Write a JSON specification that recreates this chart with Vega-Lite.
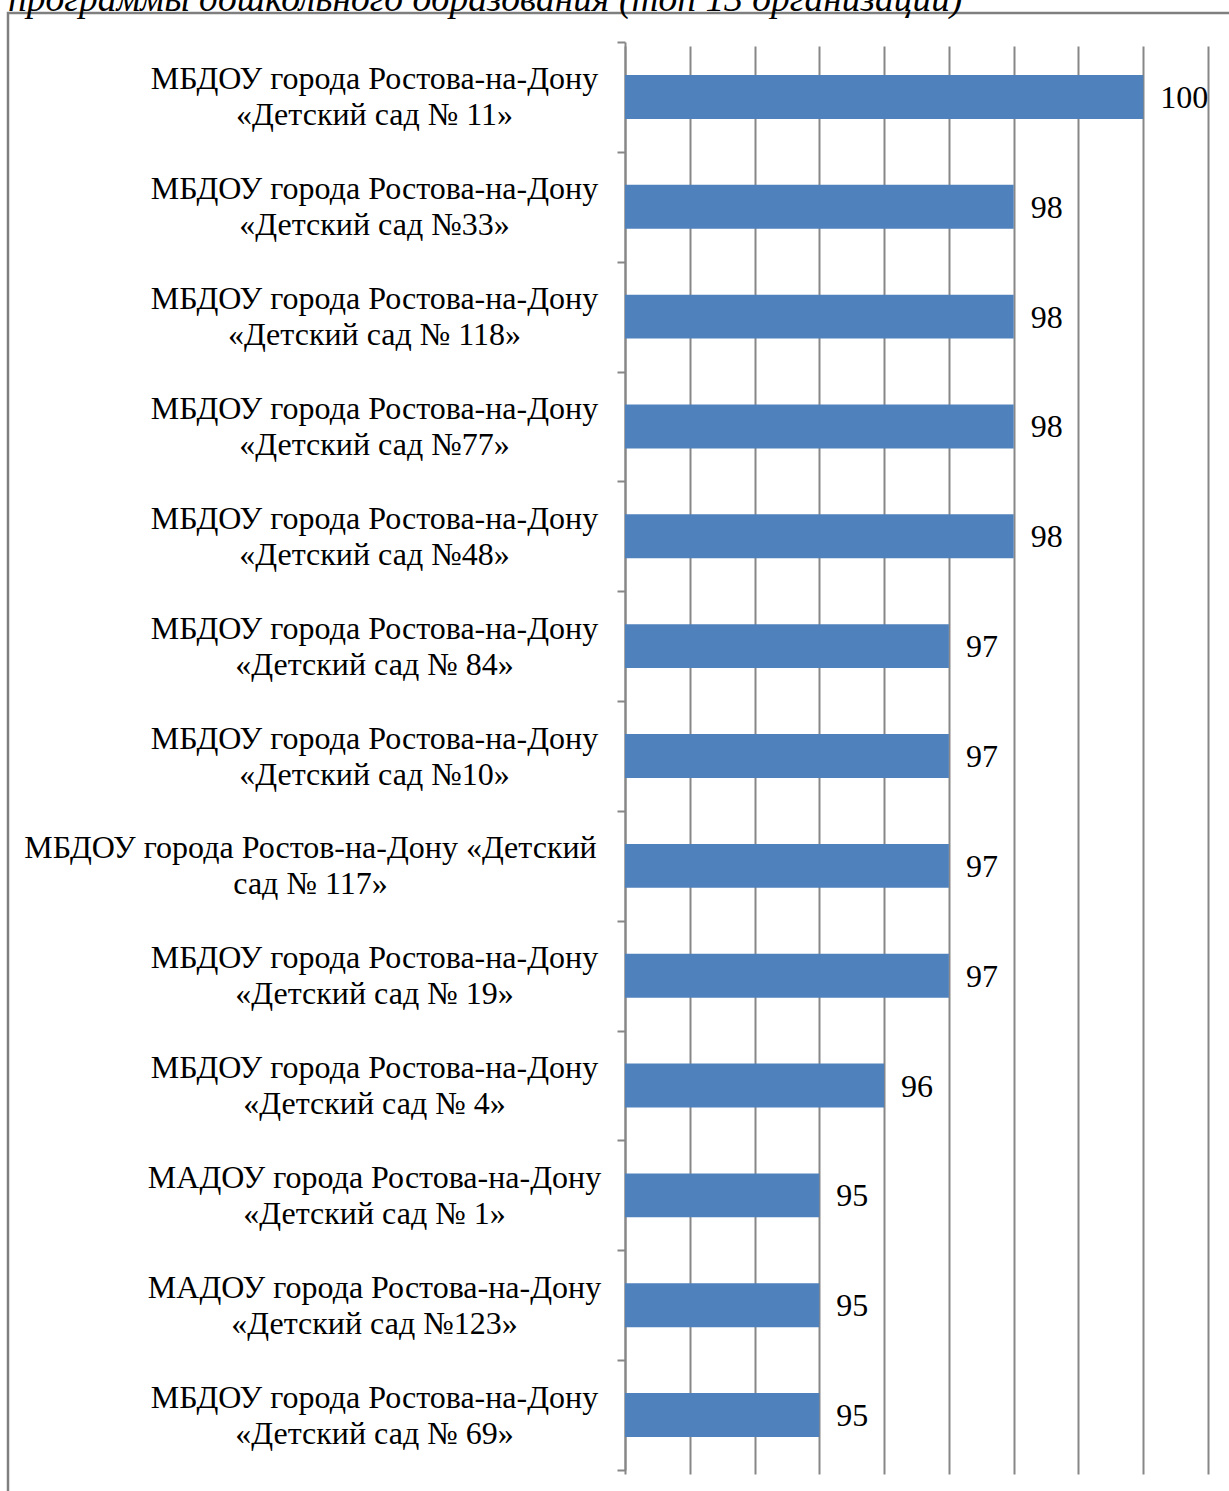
{
  "$schema": "https://vega.github.io/schema/vega-lite/v6.json",
  "width": 1231,
  "height": 1490,
  "autosize": {"type": "none"},
  "padding": {"left": 8, "top": 13, "right": -10, "bottom": -12},
  "background": "white",
  "title": {
    "text": "программы дошкольного образования (топ 13 организаций)",
    "anchor": "start",
    "frame": "group",
    "font": "Liberation Serif",
    "fontStyle": "italic",
    "fontWeight": "normal",
    "fontSize": 37.5,
    "color": "black",
    "baseline": "alphabetic",
    "offset": 0,
    "dy": 51
  },
  "config": {"view": {"stroke": "#7f7f7f", "strokeWidth": 2.5}},
  "data": {
    "values": [
      {"org": "МБДОУ города Ростова-на-Дону\n«Детский сад № 11»", "value": 100},
      {"org": "МБДОУ города Ростова-на-Дону\n«Детский сад №33»", "value": 98},
      {"org": "МБДОУ города Ростова-на-Дону\n«Детский сад № 118»", "value": 98},
      {"org": "МБДОУ города Ростова-на-Дону\n«Детский сад №77»", "value": 98},
      {"org": "МБДОУ города Ростова-на-Дону\n«Детский сад №48»", "value": 98},
      {"org": "МБДОУ города Ростова-на-Дону\n«Детский сад № 84»", "value": 97},
      {"org": "МБДОУ города Ростова-на-Дону\n«Детский сад №10»", "value": 97},
      {"org": "МБДОУ города Ростов-на-Дону «Детский\nсад № 117»", "value": 97},
      {"org": "МБДОУ города Ростова-на-Дону\n«Детский сад № 19»", "value": 97},
      {"org": "МБДОУ города Ростова-на-Дону\n«Детский сад № 4»", "value": 96},
      {"org": "МАДОУ города Ростова-на-Дону\n«Детский сад № 1»", "value": 95},
      {"org": "МАДОУ города Ростова-на-Дону\n«Детский сад №123»", "value": 95},
      {"org": "МБДОУ города Ростова-на-Дону\n«Детский сад № 69»", "value": 95}
    ]
  },
  "encoding": {
    "y": {
      "field": "org",
      "type": "nominal",
      "sort": null,
      "scale": {"range": [29, 1457], "paddingInner": 0, "paddingOuter": 0},
      "axis": {
        "title": null,
        "orient": "left",
        "offset": -617,
        "grid": false,
        "domain": true,
        "domainColor": "#878787",
        "domainWidth": 2,
        "ticks": true,
        "tickBand": "extent",
        "tickSize": 8,
        "tickColor": "#878787",
        "tickWidth": 2,
        "labelExpr": "indexof(datum.label, 'Ростов-на-Дону') >= 0 ? [split(datum.label, '\\n')[0] + '\u00a0\u00a0\u00a0\u00a0\u00a0\u00a0\u00a0\u00a0\u00a0\u00a0\u00a0\u00a0\u00a0\u00a0\u00a0\u00a0\u2060', split(datum.label, '\\n')[1] + '\u00a0\u00a0\u00a0\u00a0\u00a0\u00a0\u00a0\u00a0\u00a0\u00a0\u00a0\u00a0\u00a0\u00a0\u00a0\u00a0\u2060'] : split(datum.label, '\\n')",
        "labelAlign": "center",
        "labelBaseline": "middle",
        "labelOffset": -18,
        "labelPadding": 243,
        "labelFont": "Liberation Serif",
        "labelFontSize": 32,
        "labelLineHeight": 36,
        "labelColor": "black",
        "labelLimit": 0,
        "labelOverlap": false
      }
    }
  },
  "layer": [
    {
      "mark": {"type": "bar", "color": "#4f81bd", "height": {"band": 0.4}},
      "encoding": {
        "x": {
          "field": "value",
          "type": "quantitative",
          "scale": {"domain": [92, 101], "range": [617, 1200], "zero": false, "nice": false},
          "axis": {
            "values": [92, 93, 94, 95, 96, 97, 98, 99, 100, 101],
            "grid": true,
            "gridColor": "#878787",
            "gridWidth": 2,
            "labels": false,
            "ticks": false,
            "domain": false,
            "title": null
          }
        },
        "x2": {"datum": 92}
      }
    },
    {
      "mark": {
        "type": "text",
        "align": "left",
        "baseline": "middle",
        "dx": 17,
        "dy": 1,
        "font": "Liberation Serif",
        "fontSize": 32,
        "color": "black"
      },
      "encoding": {
        "x": {"field": "value", "type": "quantitative"},
        "text": {"field": "value", "type": "quantitative"}
      }
    }
  ]
}
